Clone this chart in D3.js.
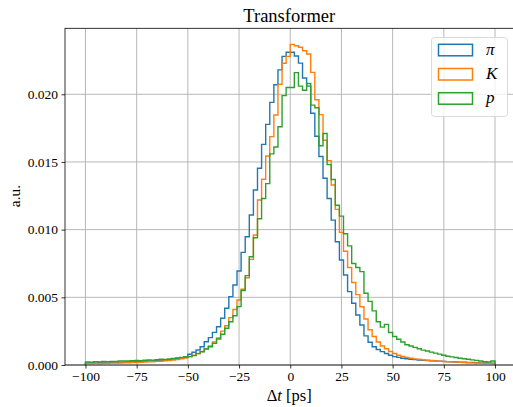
<!DOCTYPE html>
<html><head><meta charset="utf-8">
<script src="https://cdn.jsdelivr.net/npm/d3@7"></script>
<style>
html,body{margin:0;padding:0;background:#fff;}
svg{display:block;}
text{font-family:"Liberation Serif","DejaVu Serif",serif;}
</style></head>
<body><svg id="c" width="513" height="407"></svg>
<script>
// ---- data ----
const binStart = -100, binWidth = 2, binCount = 100;
const xTicks = [-100, -75, -50, -25, 0, 25, 50, 75, 100];
const yTicks = [0.000, 0.005, 0.010, 0.015, 0.020];
const seriesNames = ["π", "K", "p"];
const seriesColors = ["#1f77b4", "#ff7f0e", "#2ca02c"];

const pion = [
0.00015,0.00016,0.00014,0.00018,0.00017,0.00016,0.00020,0.00018,0.00021,0.00020,
0.00023,0.00022,0.00025,0.00024,0.00027,0.00029,0.00030,0.00034,0.00033,0.00037,
0.00040,0.00044,0.00048,0.00053,0.00060,0.00079,0.00094,0.00111,0.00135,0.00172,
0.00202,0.00241,0.00283,0.00345,0.00419,0.00505,0.00591,0.00695,0.00832,0.00948,
0.01108,0.01293,0.01453,0.01630,0.01778,0.01940,0.02070,0.02180,0.02280,0.02310,
0.02310,0.02283,0.02230,0.02120,0.02060,0.01860,0.01690,0.01540,0.01380,0.01230,
0.01070,0.00911,0.00776,0.00665,0.00542,0.00456,0.00369,0.00296,0.00215,0.00168,
0.00135,0.00115,0.00099,0.00085,0.00072,0.00062,0.00056,0.00050,0.00046,0.00043,
0.00040,0.00037,0.00035,0.00033,0.00031,0.00030,0.00028,0.00027,0.00025,0.00024,
0.00022,0.00021,0.00020,0.00019,0.00018,0.00017,0.00016,0.00015,0.00014,0.00013];

const kaon = [
0.00010,0.00011,0.00012,0.00011,0.00013,0.00012,0.00014,0.00015,0.00014,0.00016,
0.00017,0.00018,0.00019,0.00020,0.00022,0.00023,0.00024,0.00027,0.00028,0.00031,
0.00033,0.00036,0.00040,0.00046,0.00052,0.00062,0.00072,0.00085,0.00100,0.00120,
0.00140,0.00170,0.00200,0.00250,0.00290,0.00350,0.00410,0.00480,0.00560,0.00645,
0.00780,0.00960,0.01219,0.01372,0.01544,0.01687,0.01847,0.02074,0.02229,0.02280,
0.02369,0.02359,0.02347,0.02322,0.02298,0.02162,0.01960,0.01850,0.01660,0.01510,
0.01330,0.01150,0.00980,0.00840,0.00720,0.00610,0.00520,0.00430,0.00340,0.00260,
0.00210,0.00170,0.00140,0.00120,0.00100,0.00085,0.00072,0.00063,0.00056,0.00050,
0.00045,0.00042,0.00038,0.00035,0.00033,0.00030,0.00028,0.00026,0.00024,0.00023,
0.00021,0.00020,0.00018,0.00017,0.00016,0.00015,0.00014,0.00013,0.00012,0.00011];

const proton = [
0.00022,0.00020,0.00024,0.00023,0.00026,0.00025,0.00027,0.00026,0.00029,0.00030,
0.00029,0.00031,0.00033,0.00032,0.00035,0.00037,0.00036,0.00040,0.00042,0.00041,
0.00045,0.00048,0.00052,0.00056,0.00059,0.00062,0.00069,0.00084,0.00098,0.00118,
0.00135,0.00160,0.00192,0.00227,0.00271,0.00320,0.00364,0.00431,0.00550,0.00660,
0.00800,0.00940,0.01080,0.01230,0.01340,0.01560,0.01610,0.01760,0.01990,0.02050,
0.02050,0.02160,0.02060,0.02030,0.02080,0.01920,0.01900,0.01620,0.01710,0.01480,
0.01370,0.01180,0.01100,0.00970,0.00880,0.00750,0.00720,0.00690,0.00530,0.00470,
0.00400,0.00320,0.00280,0.00300,0.00240,0.00210,0.00190,0.00170,0.00150,0.00140,
0.00130,0.00120,0.00110,0.00103,0.00095,0.00088,0.00080,0.00072,0.00065,0.00060,
0.00055,0.00050,0.00046,0.00042,0.00038,0.00034,0.00030,0.00025,0.00022,0.00030];

const series = [pion, kaon, proton];

// ---- layout ----
const svg = d3.select("#c");
const L = 65, R = 515.5, T = 28.3, B = 365;
const edges = d3.range(binCount + 1).map(i => binStart + i * binWidth);
const xMin = edges[0], xMax = edges[edges.length - 1];
const xPad = (xMax - xMin) * 0.05;
const x = d3.scaleLinear().domain([xMin - xPad, xMax + xPad]).range([L, R]);
const yMax = d3.max(series.flat()) * 1.05;
const y = d3.scaleLinear().domain([0, yMax]).range([B, T]);

svg.append("defs").append("clipPath").attr("id","clip")
  .append("rect").attr("x",L).attr("y",T).attr("width",R-L).attr("height",B-T);

// grid
const grid = svg.append("g");
grid.selectAll(".gx").data(xTicks).join("line")
  .attr("x1", d=>x(d)).attr("x2", d=>x(d)).attr("y1", T).attr("y2", B)
  .attr("stroke", "#b0b0b0").attr("stroke-width", 0.9);
grid.selectAll(".gy").data(yTicks).join("line")
  .attr("x1", L).attr("x2", R).attr("y1", d=>y(d)).attr("y2", d=>y(d))
  .attr("stroke", "#b0b0b0").attr("stroke-width", 0.9);

// step histograms
const plot = svg.append("g").attr("clip-path","url(#clip)");
series.forEach((vals, si) => {
  let p = d3.path();
  p.moveTo(x(edges[0]), y(0));
  vals.forEach((v, i) => {
    p.lineTo(x(edges[i]), y(v));
    p.lineTo(x(edges[i+1]), y(v));
  });
  p.lineTo(x(edges[edges.length-1]), y(0));
  plot.append("path").attr("d", p.toString()).attr("fill","none")
    .attr("stroke", seriesColors[si]).attr("stroke-width", 1.4)
    .attr("stroke-linejoin","miter");
});

// axes
const fmtX = d => (d < 0 ? "\u2212" + Math.abs(d) : String(d));
const xAxis = d3.axisBottom(x).tickValues(xTicks).tickFormat(fmtX).tickSize(3.5).tickPadding(3);
const yAxis = d3.axisLeft(y).tickValues(yTicks).tickFormat(d3.format(".3f")).tickSize(3.5).tickPadding(3.5);
const gx = svg.append("g").attr("transform", `translate(0,${B})`).call(xAxis);
const gy = svg.append("g").attr("transform", `translate(${L},0)`).call(yAxis);
[gx, gy].forEach(g => {
  g.attr("font-family", '"Liberation Serif", serif').attr("font-size", 13.5);
  g.select(".domain").remove();
  g.selectAll(".tick line").attr("stroke","#000").attr("stroke-width",0.8);
  g.selectAll(".tick text").attr("fill","#000")
   .attr("font-family", '"Liberation Serif", serif').attr("font-size", 13.5);
});

// spines
svg.append("rect").attr("x",L).attr("y",T).attr("width",R-L).attr("height",B-T)
  .attr("fill","none").attr("stroke","#000").attr("stroke-width",0.8);

// title & labels
svg.append("text").attr("x",(L+R)/2 - 1).attr("y",22).attr("text-anchor","middle")
  .style("font-size","18.5px").text("Transformer");
const xl = svg.append("text").attr("x",(L+R)/2 - 1).attr("y",401).attr("text-anchor","middle")
  .style("font-size","16.5px");
xl.append("tspan").text("Δ");
xl.append("tspan").style("font-style","italic").text("t");
xl.append("tspan").text(" [ps]");
svg.append("text").attr("transform","translate(20,196) rotate(-90)").attr("text-anchor","middle")
  .style("font-size","15.5px").text("a.u.");

// legend
const lg = svg.append("g");
lg.append("rect").attr("x",431.5).attr("y",37.5).attr("width",76).attr("height",79).attr("rx",3)
  .attr("fill","#fff").attr("fill-opacity",0.8).attr("stroke","#d0d0d0").attr("stroke-width",0.8);
seriesNames.forEach((n, i) => {
  const cy = 49.8 + i * 24.2;
  lg.append("rect").attr("x",438.5).attr("y",cy-5.5).attr("width",34).attr("height",11.5)
    .attr("fill","none").attr("stroke",seriesColors[i]).attr("stroke-width",1.5);
  lg.append("text").attr("x",486).attr("y",cy+5).style("font-size","17px")
    .style("font-style","italic").text(n);
});
</script></body></html>
